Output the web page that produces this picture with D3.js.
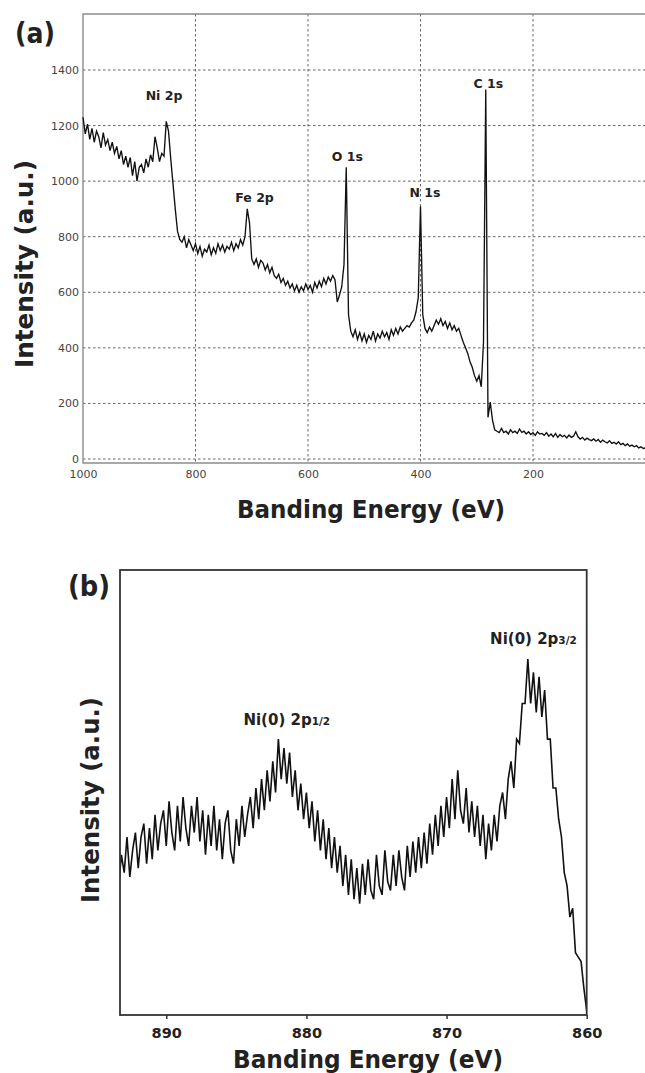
<!DOCTYPE html>
<html>
<head>
<meta charset="utf-8">
<script src="https://cdn.jsdelivr.net/npm/d3@7"></script>
<style>
  body { margin: 0; background: #fff; }
  svg text { font-family: "DejaVu Sans", Verdana, sans-serif; }
</style>
</head>
<body>
<script>
// (a) survey spectrum, counts read every 4 eV from 1000 eV down to 0 eV
var surveyCounts = [
  1230, 1170, 1205, 1150, 1190, 1140, 1180, 1160, 1120, 1175,  // 1000
  1130, 1150, 1110, 1140, 1100, 1125, 1080, 1110, 1060, 1090,  // 960
  1050, 1085, 1020, 1070, 1000, 1050, 1060, 1030, 1080, 1050,  // 920
  1095, 1070, 1160, 1120, 1070, 1100, 1090, 1215, 1180, 1080,  // 880
  990, 900, 820, 790, 780, 800, 760, 790, 770, 750,            // 840
  775, 740, 765, 730, 755, 745, 770, 735, 760, 740,            // 800
  775, 750, 770, 745, 765, 755, 780, 750, 775, 760,            // 760
  790, 770, 800, 900, 850, 720, 700, 720, 690, 715,            // 720
  705, 680, 700, 670, 690, 660, 650, 665, 635, 650,            // 680
  625, 640, 615, 630, 605, 625, 600, 620, 605, 630,            // 640
  610, 625, 600, 635, 615, 640, 620, 650, 630, 655,            // 600
  640, 660, 645, 565, 590, 620, 700, 1050, 520, 460,           // 560
  440, 465, 430, 455, 425, 450, 420, 445, 430, 460,            // 520
  425, 450, 435, 460, 440, 455, 430, 465, 445, 470,            // 480
  450, 475, 460, 470, 480, 475, 490, 500, 530, 580,            // 440
  910, 520, 470, 455, 475, 460, 480, 500, 485, 505,            // 400
  480, 495, 470, 490, 465, 480, 460, 470, 445, 420,            // 360
  400, 380, 350, 330, 300, 280, 300, 260, 420, 1330,           // 320
  150, 205, 140, 105, 100, 95, 110, 95, 100, 90,               // 280
  105, 95, 100, 92, 108, 96, 100, 90, 98, 88,                  // 240
  95, 85, 98, 90, 92, 85, 95, 82, 90, 80,                      // 200
  92, 78, 88, 80, 85, 76, 86, 78, 82, 98,                      // 160
  80, 72, 78, 68, 75, 70, 66, 72, 64, 70,                      // 120
  60, 68, 62, 58, 66, 56, 60, 54, 62, 52,                      // 80
  56, 48, 54, 46, 50, 44, 48, 40, 44, 38,                      // 40
  40                                                           // 0
];
var surveyEnergy = surveyCounts.map(function(d, i) { return 1000 - 4 * i; });
var surveyTicksX = [1000, 800, 600, 400, 200];
var surveyTicksY = [0, 200, 400, 600, 800, 1000, 1200, 1400];
var surveyGridX = [800, 600, 400, 200];
var surveyPeaks = ["Ni 2p", "Fe 2p", "O 1s", "N 1s", "C 1s"];
var surveyPeakEnergy = [856, 695, 530, 392, 279.5];
var surveyPeakCounts = [1292, 926, 1073, 944, 1337];

// (b) Ni 2p region, intensity (arbitrary) read every 0.2 eV from 894 eV down to 860 eV
var niCounts = [
  38, 31, 37, 29, 36, 32, 40, 31, 37, 41,   // 894
  33, 40, 43, 34, 42, 35, 45, 37, 43, 46,   // 892
  38, 48, 41, 37, 47, 39, 49, 42, 38, 47,   // 890
  41, 49, 39, 46, 36, 45, 38, 47, 37, 44,   // 888
  35, 43, 46, 37, 34, 44, 38, 47, 40, 45,   // 886
  49, 42, 51, 44, 53, 46, 55, 48, 57, 50,   // 884
  62, 53, 60, 52, 59, 49, 55, 46, 52, 44,   // 882
  50, 42, 48, 39, 46, 37, 44, 35, 42, 33,   // 880
  40, 32, 38, 29, 36, 27, 35, 26, 33, 25,   // 878
  34, 27, 35, 28, 26, 36, 29, 27, 37, 30,   // 876
  28, 36, 29, 37, 31, 28, 38, 31, 39, 32,   // 874
  40, 33, 41, 34, 43, 36, 45, 38, 47, 40,   // 872
  49, 42, 53, 44, 55, 46, 43, 51, 41, 48,   // 870
  40, 47, 38, 45, 35, 43, 37, 45, 39, 47,   // 868
  50, 44, 53, 57, 51, 62, 61, 70, 70, 80,   // 866
  70, 77, 68, 76, 67, 73, 62, 62, 51, 51,   // 864
  44, 40, 32, 29, 22, 24, 14, 13, 12, 6,    // 862
  1                                         // 860
];
var niEnergy = niCounts.map(function(d, i) { return 894 - 0.2 * i; });
var niTicksX = [890, 880, 870, 860];
var niPeaks = ["Ni(0) 2p", "Ni(0) 2p"];
var niPeakSub = ["1/2", "3/2"];
var niPeakEnergy = [881.4, 863.8];
var niPeakCounts = [65.2, 83.4];

var svg = d3.select("body").append("svg")
    .attr("width", 645)
    .attr("height", 1073);

// ---------- panel (a) ----------
var ax = {left: 83, right: 645, top: 14, bottom: 463};
var xa = d3.scaleLinear().domain([1000, 0]).range([83, 645.5]);
var ya = d3.scaleLinear().domain([0, 1400]).range([459, 70]);

var ga = svg.append("g");

// dashed gridlines
ga.selectAll(".hgrid")
  .data(surveyTicksY)
  .enter().append("line")
  .attr("x1", ax.left).attr("x2", ax.right)
  .attr("y1", function(d) { return ya(d); })
  .attr("y2", function(d) { return ya(d); })
  .style("stroke", "#666")
  .style("stroke-width", 1)
  .style("stroke-dasharray", "2.5,2.5");

ga.selectAll(".vgrid")
  .data(surveyGridX)
  .enter().append("line")
  .attr("y1", ax.top).attr("y2", ax.bottom)
  .attr("x1", function(d) { return xa(d); })
  .attr("x2", function(d) { return xa(d); })
  .style("stroke", "#666")
  .style("stroke-width", 1)
  .style("stroke-dasharray", "2.5,2.5");

// frame (top, left, bottom)
ga.append("path")
  .attr("d", "M" + ax.right + "," + ax.top + "H" + ax.left + "V" + ax.bottom + "H" + ax.right)
  .style("fill", "none")
  .style("stroke", "#8c8c8c")
  .style("stroke-width", 1.4);

// axes
var yAxisA = ga.append("g")
  .attr("transform", "translate(" + ax.left + ",0)")
  .call(d3.axisLeft(ya).tickValues(surveyTicksY).tickFormat(d3.format("d")).tickSize(0).tickPadding(4));
var xAxisA = ga.append("g")
  .attr("transform", "translate(0," + ax.bottom + ")")
  .call(d3.axisBottom(xa).tickValues(surveyTicksX).tickFormat(d3.format("d")).tickSize(0).tickPadding(7));
[yAxisA, xAxisA].forEach(function(g) {
  g.select(".domain").remove();
  g.selectAll("text")
    .style("font-family", "'DejaVu Sans', sans-serif")
    .style("font-size", "11px")
    .style("fill", "#444");
});

// spectrum
var lineA = d3.line()
  .x(function(d, i) { return xa(surveyEnergy[i]); })
  .y(function(d) { return ya(d); });
ga.append("path")
  .datum(surveyCounts)
  .attr("d", lineA)
  .style("fill", "none")
  .style("stroke", "#111")
  .style("stroke-width", 1.35);

// peak labels
ga.selectAll(".peak")
  .data(surveyPeaks)
  .enter().append("text")
  .attr("x", function(d, i) { return xa(surveyPeakEnergy[i]); })
  .attr("y", function(d, i) { return ya(surveyPeakCounts[i]); })
  .attr("text-anchor", "middle")
  .style("font-size", "12.5px")
  .style("font-weight", "bold")
  .style("fill", "#222")
  .text(function(d) { return d; });

// titles
ga.append("text")
  .attr("x", 15).attr("y", 43)
  .attr("textLength", 40).attr("lengthAdjust", "spacingAndGlyphs")
  .style("font-size", "28px").style("font-weight", "bold").style("fill", "#222")
  .text("(a)");
ga.append("text")
  .attr("x", 371).attr("y", 518)
  .attr("text-anchor", "middle")
  .attr("textLength", 268).attr("lengthAdjust", "spacingAndGlyphs")
  .style("font-size", "25px").style("font-weight", "bold").style("fill", "#222")
  .text("Banding Energy (eV)");
ga.append("text")
  .attr("transform", "translate(33,264) rotate(-90)")
  .attr("text-anchor", "middle")
  .attr("textLength", 208).attr("lengthAdjust", "spacingAndGlyphs")
  .style("font-size", "25px").style("font-weight", "bold").style("fill", "#222")
  .text("Intensity (a.u.)");

// ---------- panel (b) ----------
var bx = {left: 120, right: 586.7, top: 570, bottom: 1015};
var xb = d3.scaleLinear().domain([893.3, 860]).range([bx.left, bx.right]);
var yb = d3.scaleLinear().domain([0, 100]).range([bx.bottom, bx.top]);

var gb = svg.append("g");

gb.append("clipPath").attr("id", "clipb")
  .append("rect")
  .attr("x", bx.left).attr("y", bx.top)
  .attr("width", bx.right - bx.left).attr("height", bx.bottom - bx.top);

var lineB = d3.line()
  .x(function(d, i) { return xb(niEnergy[i]); })
  .y(function(d) { return yb(d); });
gb.append("path")
  .datum(niCounts)
  .attr("clip-path", "url(#clipb)")
  .attr("d", lineB)
  .style("fill", "none")
  .style("stroke", "#111")
  .style("stroke-width", 1.6);

gb.append("rect")
  .attr("x", bx.left).attr("y", bx.top)
  .attr("width", bx.right - bx.left).attr("height", bx.bottom - bx.top)
  .style("fill", "none")
  .style("stroke", "#333")
  .style("stroke-width", 1.8);

var xAxisB = gb.append("g")
  .attr("transform", "translate(0," + bx.bottom + ")")
  .call(d3.axisBottom(xb).tickValues(niTicksX).tickSize(4).tickPadding(9));
xAxisB.select(".domain").remove();
xAxisB.selectAll("line").style("stroke", "#333").style("stroke-width", 1.5);
xAxisB.selectAll("text")
  .style("font-family", "'DejaVu Sans', sans-serif")
  .style("font-size", "14.5px")
  .style("font-weight", "bold")
  .style("fill", "#222");

var peakB = gb.selectAll(".peakb")
  .data(niPeaks)
  .enter().append("text")
  .attr("x", function(d, i) { return xb(niPeakEnergy[i]); })
  .attr("y", function(d, i) { return yb(niPeakCounts[i]); })
  .attr("text-anchor", "middle")
  .style("font-weight", "bold")
  .style("fill", "#222");
peakB.append("tspan").style("font-size", "15px").text(function(d) { return d; });
peakB.append("tspan").style("font-size", "10.5px").text(function(d, i) { return niPeakSub[i]; });

gb.append("text")
  .attr("x", 68).attr("y", 596)
  .attr("textLength", 42).attr("lengthAdjust", "spacingAndGlyphs")
  .style("font-size", "28px").style("font-weight", "bold").style("fill", "#222")
  .text("(b)");
gb.append("text")
  .attr("x", 368).attr("y", 1068)
  .attr("text-anchor", "middle")
  .attr("textLength", 270).attr("lengthAdjust", "spacingAndGlyphs")
  .style("font-size", "25px").style("font-weight", "bold").style("fill", "#222")
  .text("Banding Energy (eV)");
gb.append("text")
  .attr("transform", "translate(99,800) rotate(-90)")
  .attr("text-anchor", "middle")
  .attr("textLength", 206).attr("lengthAdjust", "spacingAndGlyphs")
  .style("font-size", "25px").style("font-weight", "bold").style("fill", "#222")
  .text("Intensity (a.u.)");
</script>
</body>
</html>
